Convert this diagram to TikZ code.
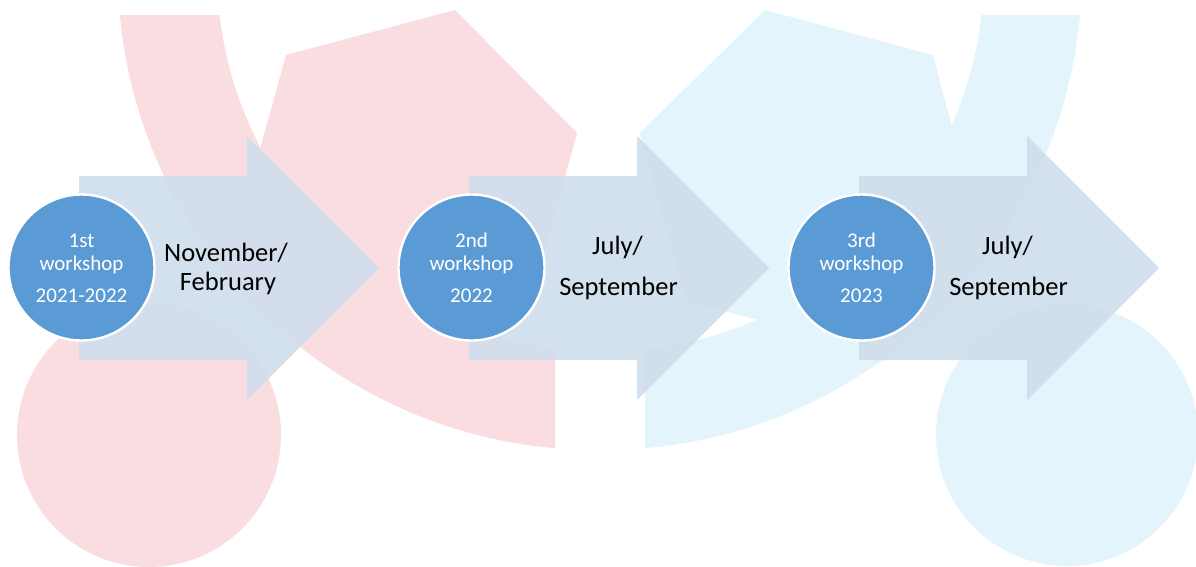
\documentclass[tikz,border=0pt]{standalone}
\usepackage{fontspec}
\setmainfont{Carlito}
\definecolor{pinkbg}{RGB}{249,221,225}
\definecolor{bluebg}{RGB}{227,244,252}
\definecolor{arrowc}{RGB}{209,222,237}
\definecolor{circc}{RGB}{91,155,213}
\begin{document}
\begin{tikzpicture}[x=1pt,y=-1pt,
  pinkshape/.style={fill=pinkbg},
  blueshape/.style={fill=bluebg},
  bigarrow/.style={fill=arrowc,fill opacity=0.95},
  wscirc/.style={circle,fill=circc,draw=white,line width=2.4pt,minimum size=146pt,inner sep=0pt},
  ctext/.style={text=white,font=\fontsize{21}{25}\selectfont,inner sep=0pt,anchor=base},
  mtext/.style={text=black,font=\fontsize{26.5}{30}\selectfont,inner sep=0pt,anchor=base}]
\useasboundingbox (0,0) rectangle (1196,566);
% pink background shapes
\begin{scope}
  \clip (0,15) rectangle (555,566);
  \fill[pinkshape,even odd rule] (597,-29) circle[radius=479pt] (597,-29) circle[radius=380pt];
\end{scope}
\fill[pinkshape] (286,55) -- (455,10) -- (577,133) -- (531,301) -- (363,345) -- (240,222) -- cycle;
\fill[pinkshape] (149,435) circle[radius=132pt];
% blue background shapes
\begin{scope}
  \clip (645,15) rectangle (1196,566);
  \fill[blueshape,even odd rule] (603,-29) circle[radius=479pt] (603,-29) circle[radius=381pt];
\end{scope}
\fill[blueshape] (933,55) -- (765,10) -- (640,133) -- (686,301) -- (854,345) -- (977,222) -- cycle;
\fill[blueshape] (1067,435) circle[radius=131pt];
% arrows
\fill[bigarrow] (79,176) -- (247,176) -- (247,136) -- (379,268) -- (247,400) -- (247,360) -- (79,360) -- cycle;
\fill[bigarrow] (469,176) -- (637,176) -- (637,136) -- (769,268) -- (637,400) -- (637,360) -- (469,360) -- cycle;
\fill[bigarrow] (859,176) -- (1027,176) -- (1027,136) -- (1159,268) -- (1027,400) -- (1027,360) -- (859,360) -- cycle;
% circles
\node[wscirc] (c1) at (81.5,267.5) {};
\node[wscirc] (c2) at (471.5,267.5) {};
\node[wscirc] (c3) at (861.5,267.5) {};
% circle texts
\node[ctext] (c1a) at (81.5,247) {1st};
\node[ctext] (c1b) at (81.5,270) {workshop};
\node[ctext] (c1c) at (81.5,302) {2021-2022};
\node[ctext] (c2a) at (471.5,247) {2nd};
\node[ctext] (c2b) at (471.5,270) {workshop};
\node[ctext] (c2c) at (471.5,302) {2022};
\node[ctext] (c3a) at (861.5,247) {3rd};
\node[ctext] (c3b) at (861.5,270) {workshop};
\node[ctext] (c3c) at (861.5,302) {2023};
% month texts
\node[mtext] (m1a) at (226,261) {November/};
\node[mtext] (m1b) at (228,290) {February};
\node[mtext] (m2a) at (617.5,254) {July/};
\node[mtext] (m2b) at (618.5,295) {September};
\node[mtext] (m3a) at (1007.5,254) {July/};
\node[mtext] (m3b) at (1008.5,295) {September};
\end{tikzpicture}
\end{document}
